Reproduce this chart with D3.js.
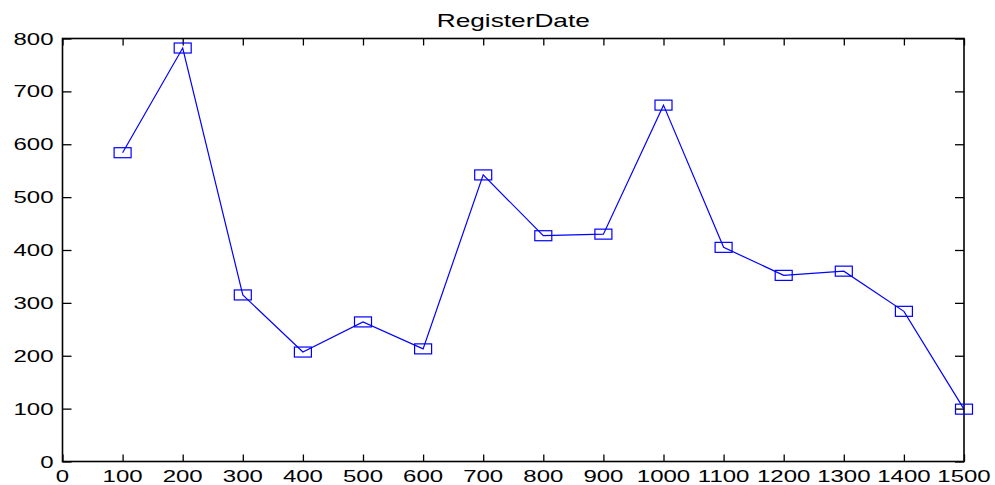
<!DOCTYPE html>
<html>
<head>
<meta charset="utf-8">
<script src="https://cdn.jsdelivr.net/npm/d3@7"></script>
<style>
  html, body { margin: 0; padding: 0; background: #fff; }
  svg { display: block; }
  text { font-family: "Liberation Sans", Arial, Helvetica, sans-serif; fill: #000; }
</style>
</head>
<body>
<div id="chart"></div>
<script>
// data
const titleText = 'RegisterDate';
const xValues = [100, 200, 300, 400, 500, 600, 700, 800, 900, 1000, 1100, 1200, 1300, 1400, 1500];
const counts = [584, 782, 315, 207, 264, 213, 542, 427, 430, 674, 405, 352, 360, 284, 99];
const xTicks = [0, 100, 200, 300, 400, 500, 600, 700, 800, 900, 1000, 1100, 1200, 1300, 1400, 1500];
const yTicks = [0, 100, 200, 300, 400, 500, 600, 700, 800];

const W = 995, H = 485;
const margin = { top: 38.5, right: 31, bottom: 23.5, left: 62.5 };
const width = W - margin.left - margin.right;
const height = H - margin.top - margin.bottom;
const stretch = 1.5; // glyphs in the reference are wide

const svg = d3.select('#chart').append('svg')
  .attr('width', W)
  .attr('height', H);

const g = svg.append('g')
  .attr('transform', `translate(${margin.left},${margin.top})`);

const x = d3.scaleLinear().domain([0, 1500]).range([0, width]);
const y = d3.scaleLinear().domain([0, 800]).range([height, 0]);

// axes: ticks inward on all four sides, labels drawn separately
const tickLen = 7;
const styleAxis = sel => {
  sel.select('.domain').remove();
  sel.selectAll('.tick line').attr('stroke', '#000').attr('stroke-width', 1.3);
  sel.selectAll('.tick text').remove();
};

g.append('g').attr('transform', `translate(0,${height})`)
  .call(d3.axisBottom(x).tickValues(xTicks).tickSizeInner(-tickLen).tickSizeOuter(0))
  .call(styleAxis);
g.append('g')
  .call(d3.axisTop(x).tickValues(xTicks).tickSizeInner(-tickLen).tickSizeOuter(0))
  .call(styleAxis);
g.append('g')
  .call(d3.axisLeft(y).tickValues(yTicks).tickSizeInner(-tickLen - 2).tickSizeOuter(0))
  .call(styleAxis);
g.append('g').attr('transform', `translate(${width},0)`)
  .call(d3.axisRight(y).tickValues(yTicks).tickSizeInner(-tickLen - 2).tickSizeOuter(0))
  .call(styleAxis);

// box
g.append('rect')
  .attr('width', width)
  .attr('height', height)
  .attr('fill', 'none')
  .attr('stroke', '#000')
  .attr('stroke-width', 1.6);

// tick labels (horizontally stretched like the source image)
g.selectAll('.xlabel')
  .data(xTicks)
  .enter()
  .append('text')
  .attr('class', 'xlabel')
  .attr('transform', d => `translate(${x(d)},${height + 20}) scale(${stretch},1)`)
  .attr('text-anchor', 'middle')
  .attr('font-size', 16)
  .text(d => d);

g.selectAll('.ylabel')
  .data(yTicks)
  .enter()
  .append('text')
  .attr('class', 'ylabel')
  .attr('transform', d => `translate(-9,${y(d) + 6}) scale(${stretch},1)`)
  .attr('text-anchor', 'end')
  .attr('font-size', 16)
  .text(d => d);

// title
svg.append('text')
  .attr('transform', `translate(${margin.left + width / 2},${26.5}) scale(${stretch},1)`)
  .attr('text-anchor', 'middle')
  .attr('font-size', 17.5)
  .text(titleText);

// line
const points = xValues.map((v, i) => ({ x: v, y: counts[i] }));
const line = d3.line()
  .x(d => x(d.x))
  .y(d => y(d.y));

g.append('path')
  .datum(points)
  .attr('fill', 'none')
  .attr('stroke', '#0000ff')
  .attr('stroke-width', 1.2)
  .attr('d', line);

// square markers (look like 17x10 boxes in the stretched image)
const mw = 17, mh = 10;
g.selectAll('.marker')
  .data(points)
  .enter()
  .append('rect')
  .attr('class', 'marker')
  .attr('x', d => x(d.x) - mw / 2)
  .attr('y', d => y(d.y) - mh / 2)
  .attr('width', mw)
  .attr('height', mh)
  .attr('fill', 'none')
  .attr('stroke', '#0000ff')
  .attr('stroke-width', 1.2);
</script>
</body>
</html>
